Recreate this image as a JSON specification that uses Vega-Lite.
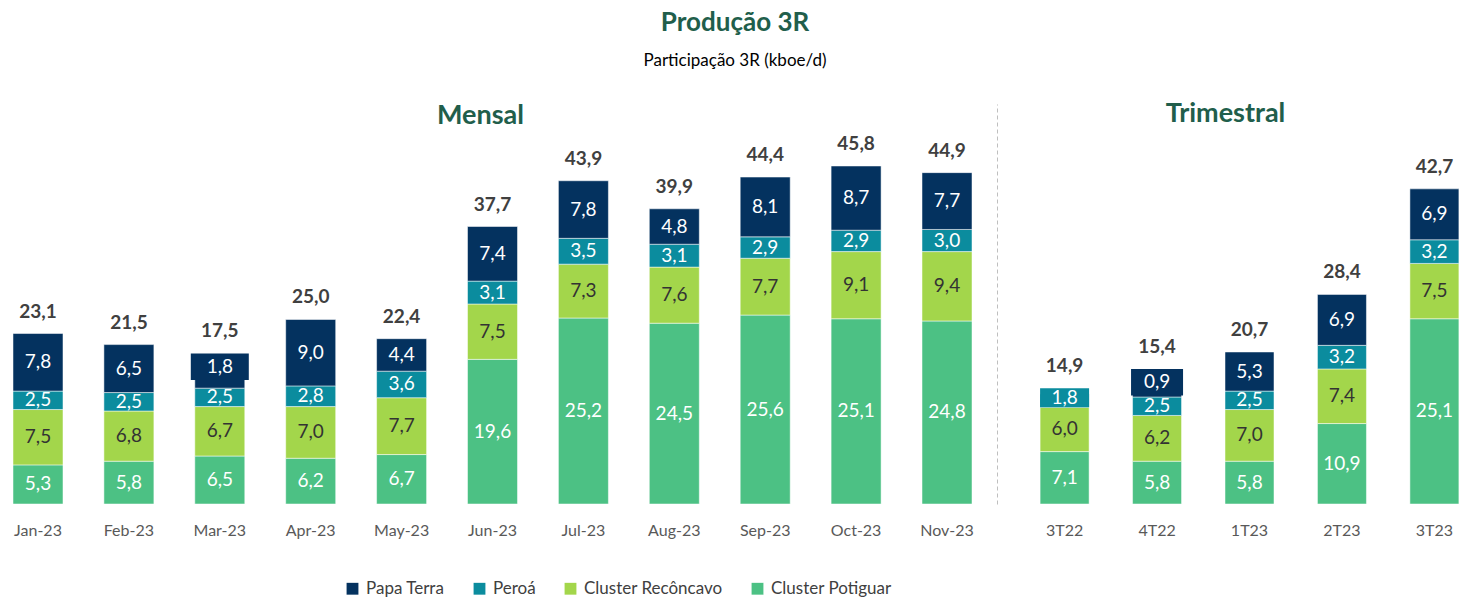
{
  "$schema": "https://vega.github.io/schema/vega-lite/v6.json",
  "autosize": {"type": "pad"},
  "padding": {"top": 10, "left": 0, "right": 0, "bottom": 0},
  "bounds": "flush",
  "background": "white",
  "config": {
    "font": "Lato",
    "view": {"stroke": null},
    "locale": {"number": {"decimal": ",", "thousands": ".", "grouping": [3], "currency": ["R$", ""]}},
    "concat": {"spacing": 44}
  },
  "title": {
    "text": "Produção 3R",
    "subtitle": "Participação 3R (kboe/d)",
    "fontSize": 26,
    "fontWeight": "bold",
    "color": "#215E4B",
    "subtitleFontSize": 17,
    "subtitleColor": "#000000",
    "subtitlePadding": 17,
    "anchor": "middle",
    "offset": 31
  },
  "datasets": {
    "seg": [
      {"p": "Jan-23", "g": "M", "s": "Cluster Potiguar", "v": 5.3},
      {"p": "Jan-23", "g": "M", "s": "Cluster Recôncavo", "v": 7.5},
      {"p": "Jan-23", "g": "M", "s": "Peroá", "v": 2.5},
      {"p": "Jan-23", "g": "M", "s": "Papa Terra", "v": 7.8},
      {"p": "Feb-23", "g": "M", "s": "Cluster Potiguar", "v": 5.8},
      {"p": "Feb-23", "g": "M", "s": "Cluster Recôncavo", "v": 6.8},
      {"p": "Feb-23", "g": "M", "s": "Peroá", "v": 2.5},
      {"p": "Feb-23", "g": "M", "s": "Papa Terra", "v": 6.5},
      {"p": "Mar-23", "g": "M", "s": "Cluster Potiguar", "v": 6.5},
      {"p": "Mar-23", "g": "M", "s": "Cluster Recôncavo", "v": 6.7},
      {"p": "Mar-23", "g": "M", "s": "Peroá", "v": 2.5},
      {"p": "Mar-23", "g": "M", "s": "Papa Terra", "v": 1.8},
      {"p": "Apr-23", "g": "M", "s": "Cluster Potiguar", "v": 6.2},
      {"p": "Apr-23", "g": "M", "s": "Cluster Recôncavo", "v": 7.0},
      {"p": "Apr-23", "g": "M", "s": "Peroá", "v": 2.8},
      {"p": "Apr-23", "g": "M", "s": "Papa Terra", "v": 9.0},
      {"p": "May-23", "g": "M", "s": "Cluster Potiguar", "v": 6.7},
      {"p": "May-23", "g": "M", "s": "Cluster Recôncavo", "v": 7.7},
      {"p": "May-23", "g": "M", "s": "Peroá", "v": 3.6},
      {"p": "May-23", "g": "M", "s": "Papa Terra", "v": 4.4},
      {"p": "Jun-23", "g": "M", "s": "Cluster Potiguar", "v": 19.6},
      {"p": "Jun-23", "g": "M", "s": "Cluster Recôncavo", "v": 7.5},
      {"p": "Jun-23", "g": "M", "s": "Peroá", "v": 3.1},
      {"p": "Jun-23", "g": "M", "s": "Papa Terra", "v": 7.4},
      {"p": "Jul-23", "g": "M", "s": "Cluster Potiguar", "v": 25.2},
      {"p": "Jul-23", "g": "M", "s": "Cluster Recôncavo", "v": 7.3},
      {"p": "Jul-23", "g": "M", "s": "Peroá", "v": 3.5},
      {"p": "Jul-23", "g": "M", "s": "Papa Terra", "v": 7.8},
      {"p": "Aug-23", "g": "M", "s": "Cluster Potiguar", "v": 24.5},
      {"p": "Aug-23", "g": "M", "s": "Cluster Recôncavo", "v": 7.6},
      {"p": "Aug-23", "g": "M", "s": "Peroá", "v": 3.1},
      {"p": "Aug-23", "g": "M", "s": "Papa Terra", "v": 4.8},
      {"p": "Sep-23", "g": "M", "s": "Cluster Potiguar", "v": 25.6},
      {"p": "Sep-23", "g": "M", "s": "Cluster Recôncavo", "v": 7.7},
      {"p": "Sep-23", "g": "M", "s": "Peroá", "v": 2.9},
      {"p": "Sep-23", "g": "M", "s": "Papa Terra", "v": 8.1},
      {"p": "Oct-23", "g": "M", "s": "Cluster Potiguar", "v": 25.1},
      {"p": "Oct-23", "g": "M", "s": "Cluster Recôncavo", "v": 9.1},
      {"p": "Oct-23", "g": "M", "s": "Peroá", "v": 2.9},
      {"p": "Oct-23", "g": "M", "s": "Papa Terra", "v": 8.7},
      {"p": "Nov-23", "g": "M", "s": "Cluster Potiguar", "v": 24.8},
      {"p": "Nov-23", "g": "M", "s": "Cluster Recôncavo", "v": 9.4},
      {"p": "Nov-23", "g": "M", "s": "Peroá", "v": 3.0},
      {"p": "Nov-23", "g": "M", "s": "Papa Terra", "v": 7.7},
      {"p": "3T22", "g": "T", "s": "Cluster Potiguar", "v": 7.1},
      {"p": "3T22", "g": "T", "s": "Cluster Recôncavo", "v": 6.0},
      {"p": "3T22", "g": "T", "s": "Peroá", "v": 1.8},
      {"p": "4T22", "g": "T", "s": "Cluster Potiguar", "v": 5.8},
      {"p": "4T22", "g": "T", "s": "Cluster Recôncavo", "v": 6.2},
      {"p": "4T22", "g": "T", "s": "Peroá", "v": 2.5},
      {"p": "4T22", "g": "T", "s": "Papa Terra", "v": 0.9},
      {"p": "1T23", "g": "T", "s": "Cluster Potiguar", "v": 5.8},
      {"p": "1T23", "g": "T", "s": "Cluster Recôncavo", "v": 7.0},
      {"p": "1T23", "g": "T", "s": "Peroá", "v": 2.5},
      {"p": "1T23", "g": "T", "s": "Papa Terra", "v": 5.3},
      {"p": "2T23", "g": "T", "s": "Cluster Potiguar", "v": 10.9},
      {"p": "2T23", "g": "T", "s": "Cluster Recôncavo", "v": 7.4},
      {"p": "2T23", "g": "T", "s": "Peroá", "v": 3.2},
      {"p": "2T23", "g": "T", "s": "Papa Terra", "v": 6.9},
      {"p": "3T23", "g": "T", "s": "Cluster Potiguar", "v": 25.1},
      {"p": "3T23", "g": "T", "s": "Cluster Recôncavo", "v": 7.5},
      {"p": "3T23", "g": "T", "s": "Peroá", "v": 3.2},
      {"p": "3T23", "g": "T", "s": "Papa Terra", "v": 6.9}
    ],
    "tot": [
      {"p": "Jan-23", "t": 23.1},
      {"p": "Feb-23", "t": 21.5},
      {"p": "Mar-23", "t": 17.5},
      {"p": "Apr-23", "t": 25.0},
      {"p": "May-23", "t": 22.4},
      {"p": "Jun-23", "t": 37.7},
      {"p": "Jul-23", "t": 43.9},
      {"p": "Aug-23", "t": 39.9},
      {"p": "Sep-23", "t": 44.4},
      {"p": "Oct-23", "t": 45.8},
      {"p": "Nov-23", "t": 44.9},
      {"p": "3T22", "t": 14.9},
      {"p": "4T22", "t": 15.4},
      {"p": "1T23", "t": 20.7},
      {"p": "2T23", "t": 28.4},
      {"p": "3T23", "t": 42.7}
    ]
  },
  "resolve": {"scale": {"y": "shared", "color": "shared"}},
  "hconcat": [
    {
      "width": 985,
      "height": 400,
      "title": {"text": "Mensal", "fontSize": 27, "fontWeight": "bold", "color": "#215E4B", "anchor": "middle", "offset": -26, "dx": -12},
      "data": {"name": "seg"},
      "transform": [
        {"filter": "datum.g === 'M'"},
        {"calculate": "indexof(['Cluster Potiguar','Cluster Recôncavo','Peroá','Papa Terra'], datum.s)", "as": "k"},
        {"stack": "v", "groupby": ["p"], "sort": [{"field": "k", "order": "ascending"}], "as": ["v0", "v1"]},
        {"joinaggregate": [{"op": "max", "field": "k", "as": "kmax"}], "groupby": ["p"]},
        {"calculate": "datum.v < 2 && datum.s === 'Papa Terra'", "as": "small"},
        {"calculate": "datum.small ? datum.v1 - 0.7 : datum.v0", "as": "blo"},
        {"calculate": "datum.small ? datum.v1 + 2.9 : datum.v1", "as": "bhi"},
        {"calculate": "(datum.v0 + datum.v1) / 2", "as": "m"},
        {"calculate": "datum.small ? (datum.blo + datum.bhi) / 2 : datum.m", "as": "lab"},
        {"lookup": "p", "from": {"data": {"name": "tot"}, "key": "p", "fields": ["t"]}}
      ],
      "encoding": {
        "x": {
          "field": "p", "type": "ordinal", "sort": null,
          "scale": {"domain": ["Jan-23", "Feb-23", "Mar-23", "Apr-23", "May-23", "Jun-23", "Jul-23", "Aug-23", "Sep-23", "Oct-23", "Nov-23"], "paddingInner": 0.45, "paddingOuter": 0.143},
          "axis": {"title": null, "labelAngle": 0, "labelFontSize": 16, "labelColor": "#595959", "labelPadding": 18, "ticks": false, "domain": false}
        }
      },
      "layer": [
        {
          "mark": {"type": "bar", "stroke": "white", "strokeWidth": 0.5},
          "encoding": {
            "y": {"field": "v0", "type": "quantitative", "scale": {"domain": [0, 54.2], "nice": false}, "axis": null},
            "y2": {"field": "v1"},
            "color": {
              "field": "s", "type": "nominal",
              "scale": {"domain": ["Papa Terra", "Peroá", "Cluster Recôncavo", "Cluster Potiguar"], "range": ["#04325F", "#0B8C9E", "#A3D64B", "#4CC184"]},
              "legend": {
                "title": null, "orient": "none", "direction": "horizontal", "legendX": 344, "legendY": 476,
                "symbolType": "square", "symbolSize": 140, "symbolStrokeWidth": 0, "labelFontSize": 17, "labelColor": "#404040",
                "columnPadding": 26, "labelOffset": 5
              }
            }
          }
        },
        {
          "transform": [{"filter": "datum.small"}],
          "mark": {"type": "bar", "width": 58, "color": "#04325F"},
          "encoding": {
            "y": {"field": "blo", "type": "quantitative"},
            "y2": {"field": "bhi"}
          }
        },
        {
          "mark": {"type": "text", "fontSize": 19, "baseline": "middle"},
          "encoding": {
            "y": {"field": "lab", "type": "quantitative"},
            "text": {"field": "v", "type": "quantitative", "format": ".1f"},
            "color": {"condition": {"test": "datum.s === 'Cluster Recôncavo'", "value": "#333333"}, "value": "#ffffff"}
          }
        },
        {
          "transform": [{"filter": "datum.k === datum.kmax"}],
          "mark": {"type": "text", "fontSize": 19, "fontWeight": "bold", "color": "#404040", "baseline": "bottom", "dy": -12},
          "encoding": {
            "y": {"field": "bhi", "type": "quantitative"},
            "text": {"field": "t", "type": "quantitative", "format": ".1f"}
          }
        }
      ]
    },
    {
      "width": 441,
      "height": 400,
      "title": {"text": "Trimestral", "fontSize": 27, "fontWeight": "bold", "color": "#215E4B", "anchor": "middle", "offset": -24, "dx": -24},
      "data": {"name": "seg"},
      "transform": [
        {"filter": "datum.g === 'T'"},
        {"calculate": "indexof(['Cluster Potiguar','Cluster Recôncavo','Peroá','Papa Terra'], datum.s)", "as": "k"},
        {"stack": "v", "groupby": ["p"], "sort": [{"field": "k", "order": "ascending"}], "as": ["v0", "v1"]},
        {"joinaggregate": [{"op": "max", "field": "k", "as": "kmax"}], "groupby": ["p"]},
        {"calculate": "datum.v < 2 && datum.s === 'Papa Terra'", "as": "small"},
        {"calculate": "datum.v < 2 && datum.s === 'Peroá'", "as": "smallp"},
        {"calculate": "datum.small ? datum.v1 - 0.7 : datum.v0", "as": "blo"},
        {"calculate": "datum.small ? datum.v1 + 2.9 : (datum.smallp ? datum.v1 + 0.8 : datum.v1)", "as": "bhi"},
        {"calculate": "(datum.v0 + datum.v1) / 2", "as": "m"},
        {"calculate": "(datum.small || datum.smallp) ? (datum.blo + datum.bhi) / 2 : datum.m", "as": "lab"},
        {"lookup": "p", "from": {"data": {"name": "tot"}, "key": "p", "fields": ["t"]}}
      ],
      "encoding": {
        "x": {
          "field": "p", "type": "ordinal", "sort": null,
          "scale": {"domain": ["3T22", "4T22", "1T23", "2T23", "3T23"], "paddingInner": 0.47, "paddingOuter": 0.12},
          "axis": {"title": null, "labelAngle": 0, "labelFontSize": 16, "labelColor": "#595959", "labelPadding": 18, "ticks": false, "domain": false}
        }
      },
      "layer": [
        {
          "mark": {"type": "bar", "stroke": "white", "strokeWidth": 0.5},
          "encoding": {
            "y": {
              "field": "v0", "type": "quantitative", "scale": {"domain": [0, 54.2], "nice": false},
              "axis": {"title": null, "labels": false, "ticks": false, "grid": false, "domain": true, "domainColor": "#BFBFBF", "domainDash": [4, 3], "domainWidth": 1, "offset": 32}
            },
            "y2": {"field": "v1"},
            "color": {"field": "s", "type": "nominal"}
          }
        },
        {
          "transform": [{"filter": "datum.small"}],
          "mark": {"type": "bar", "width": 52, "color": "#04325F"},
          "encoding": {
            "y": {"field": "blo", "type": "quantitative"},
            "y2": {"field": "bhi"}
          }
        },
        {
          "transform": [{"filter": "datum.smallp"}],
          "mark": {"type": "bar", "color": "#0B8C9E"},
          "encoding": {
            "y": {"field": "blo", "type": "quantitative"},
            "y2": {"field": "bhi"}
          }
        },
        {
          "mark": {"type": "text", "fontSize": 19, "baseline": "middle"},
          "encoding": {
            "y": {"field": "lab", "type": "quantitative"},
            "text": {"field": "v", "type": "quantitative", "format": ".1f"},
            "color": {"condition": {"test": "datum.s === 'Cluster Recôncavo'", "value": "#333333"}, "value": "#ffffff"}
          }
        },
        {
          "transform": [{"filter": "datum.k === datum.kmax"}],
          "mark": {"type": "text", "fontSize": 19, "fontWeight": "bold", "color": "#404040", "baseline": "bottom", "dy": -12},
          "encoding": {
            "y": {"field": "bhi", "type": "quantitative"},
            "text": {"field": "t", "type": "quantitative", "format": ".1f"}
          }
        }
      ]
    }
  ]
}
